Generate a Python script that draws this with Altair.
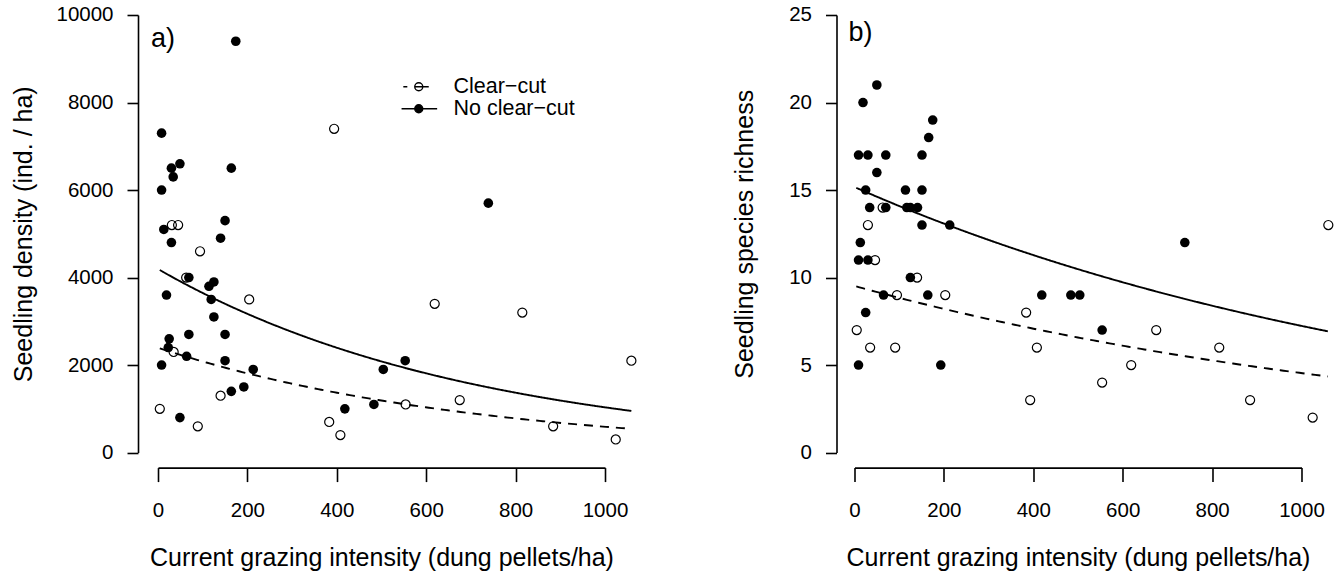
import altair as alt
import numpy as np
import pandas as pd

FONT = "Liberation Sans"
CLEAR = "Clear\u2212cut"
NOCLEAR = "No clear\u2212cut"
GROUPS = [CLEAR, NOCLEAR]

# ---- axis ticks
grazing_ticks = [0, 200, 400, 600, 800, 1000]
density_ticks = [0, 2000, 4000, 6000, 8000, 10000]
richness_ticks = [0, 5, 10, 15, 20, 25]

# ---- panel a: seedling density (ind./ha)
dens_clear_x = [4, 31, 35, 45, 63, 89, 94, 140, 204, 383, 394, 408, 554, 619, 675, 815, 884, 1024, 1059]
dens_clear_y = [1000, 5200, 2300, 5200, 4000, 600, 4600, 1300, 3500, 700, 7400, 400, 1100, 3400, 1200, 3200, 600, 300, 2100]
dens_noclear_x = [174, 8, 30, 49, 34, 164, 8, 13, 150, 140, 30, 69, 114, 125, 119, 19, 125, 69, 150, 25,
                  23, 64, 150, 8, 213, 504, 553, 739, 192, 164, 418, 483, 49]
dens_noclear_y = [9400, 7300, 6500, 6600, 6300, 6500, 6000, 5100, 5300, 4900, 4800, 4000, 3800, 3900, 3500, 3600,
                  3100, 2700, 2700, 2600, 2400, 2200, 2100, 2000, 1900, 1900, 2100, 5700, 1500, 1400, 1000, 1100, 800]

# ---- panel b: seedling species richness
rich_clear_x = [5, 30, 35, 46, 63, 91, 95, 140, 203, 384, 393, 408, 554, 619, 675, 816, 885, 1025, 1060]
rich_clear_y = [7, 13, 6, 11, 14, 6, 9, 10, 9, 8, 3, 6, 4, 5, 7, 6, 3, 2, 13]
rich_noclear_x = [50, 19, 175, 166, 9, 30, 70, 151, 50, 25, 114, 151, 34, 70, 117, 125, 141, 151, 213, 13,
                  9, 30, 125, 65, 164, 419, 25, 9, 193, 484, 504, 554, 739]
rich_noclear_y = [21, 20, 19, 18, 17, 17, 17, 17, 16, 15, 15, 15, 14, 14, 14, 14, 14, 13, 13, 12,
                  11, 11, 10, 9, 9, 9, 8, 5, 5, 9, 9, 7, 12]

dens_fit_a = [2395, 4195]      # clear-cut, no clear-cut
dens_fit_b = -0.0014
rich_fit_a = [9.52, 15.17]
rich_fit_b = -0.00074
fit_x_min, fit_x_max = 4, 1059

# legend symbols (custom paths, unit = sqrt(symbolSize)/2 px)
CIRCLE = "M0.5,0 A0.5,0.5 0 1,1 -0.5,0 A0.5,0.5 0 1,1 0.5,0 Z"
SYM_CLEAR = "M-1.93,0 L-1.43,0 M-0.46,0 L1.25,0 " + CIRCLE
SYM_NOCLEAR = "M-2.15,0 L2.3,0 " + CIRCLE


def panel(cx, cy, nx, ny, fit_a, fit_b, ticks, ytitle, tag, y_offset, ytitle_pad, tag_dx, tag_y, with_legend):
    open_df = pd.DataFrame({"x": cx, "y": cy})
    fill_df = pd.DataFrame({"x": nx, "y": ny})
    xs = np.linspace(fit_x_min, fit_x_max, 150)
    fit_df = pd.DataFrame({
        "x": np.concatenate([xs, xs]),
        "y": np.concatenate([fit_a[0] * np.exp(fit_b * xs), fit_a[1] * np.exp(fit_b * xs)]),
        "group": [CLEAR] * len(xs) + [NOCLEAR] * len(xs),
    })
    x = alt.X("x:Q", scale=alt.Scale(domain=[grazing_ticks[0], grazing_ticks[-1]], nice=False, zero=False),
              axis=alt.Axis(values=grazing_ticks, format="d",
                            title="Current grazing intensity (dung pellets/ha)",
                            offset=15, tickSize=14, labelPadding=19, titlePadding=24,
                            labelFlush=False, grid=False))
    y = alt.Y("y:Q", scale=alt.Scale(domain=[ticks[0], ticks[-1]], nice=False, zero=False),
              axis=alt.Axis(values=ticks, format="d", title=ytitle, offset=y_offset,
                            tickSize=11, labelPadding=14, titlePadding=ytitle_pad, grid=False))

    open_pts = alt.Chart(open_df).mark_point(shape="circle", filled=False, color="black", size=82,
                                             strokeWidth=1.2, opacity=1).encode(x=x, y=y)
    fill_pts = alt.Chart(fill_df).mark_circle(color="black", size=92, opacity=1).encode(x=x, y=y)
    fits = alt.Chart(fit_df).mark_line(color="black", strokeWidth=1.9).encode(
        x=x, y=y,
        strokeDash=alt.StrokeDash("group:N", scale=alt.Scale(domain=GROUPS, range=[[9, 7], [1, 0]]), legend=None),
    )
    tag_layer = alt.Chart(pd.DataFrame({"tag": [tag]})).mark_text(
        align="left", baseline="alphabetic", font=FONT, fontSize=27, color="black"
    ).encode(text="tag:N", x=alt.value(tag_dx), y=alt.value(tag_y))
    layers = [open_pts, fill_pts, fits, tag_layer]
    if with_legend:
        leg = alt.Legend(title=None, orient="none", legendX=250, legendY=61, labelFont=FONT,
                         labelFontSize=21.5, labelColor="black", symbolSize=256, symbolStrokeWidth=1.4,
                         symbolStrokeColor="black", symbolOpacity=1, labelOffset=24, rowPadding=-4.5,
                         padding=0, labelLimit=300)
        legend_layer = alt.Chart(fit_df).mark_point(opacity=0, color="black", strokeWidth=1.4).encode(
            x=x, y=y,
            shape=alt.Shape("group:N", scale=alt.Scale(domain=GROUPS, range=[SYM_CLEAR, SYM_NOCLEAR]), legend=leg),
            fill=alt.Fill("group:N", scale=alt.Scale(domain=GROUPS, range=["transparent", "black"]), legend=leg),
            stroke=alt.Stroke("group:N", scale=alt.Scale(domain=GROUPS, range=["black", "black"]), legend=leg),
        )
        layers.append(legend_layer)
    return alt.layer(*layers).properties(width=447, height=437.6)


pa = panel(dens_clear_x, dens_clear_y, dens_noclear_x, dens_noclear_y, dens_fit_a, dens_fit_b,
           density_ticks, "Seedling density (ind. / ha)", "a)", 20, 19.5, -7, 32.5, True)
pb = panel(rich_clear_x, rich_clear_y, rich_noclear_x, rich_noclear_y, rich_fit_a, rich_fit_b,
           richness_ticks, "Seedling species richness", "b)", 18, 31, -6, 26, False)

chart = alt.hconcat(pa, pb, spacing=93.5).resolve_scale(
    x="independent", y="independent", strokeDash="independent"
).configure_view(stroke=None).configure_axis(
    labelFont=FONT, titleFont=FONT, labelFontSize=20.5, titleFontSize=25, titleFontWeight="normal",
    labelColor="black", titleColor="black", domainColor="black", tickColor="black",
    domainWidth=1.6, tickWidth=1.6,
).properties(padding={"left": 11, "top": 5, "right": 0, "bottom": 0}, background="white")

chart.save("out.html", embed_options={"renderer": "svg", "actions": False})
